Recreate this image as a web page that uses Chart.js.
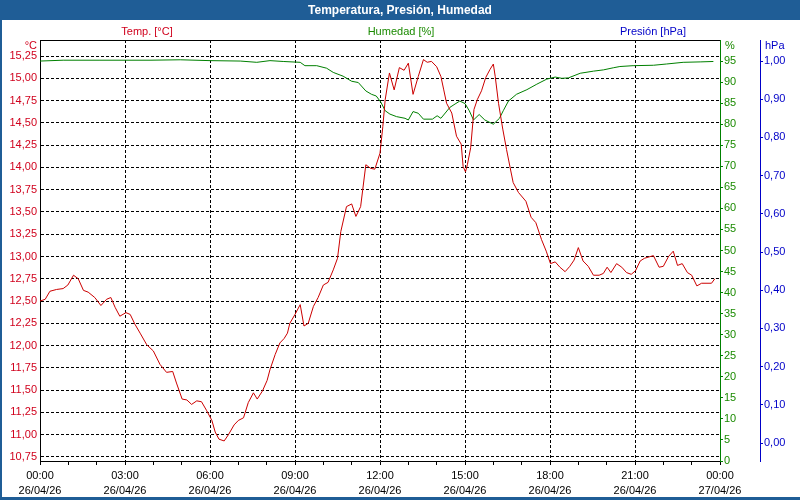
<!DOCTYPE html>
<html>
<head>
<meta charset="utf-8">
<script src="https://cdn.jsdelivr.net/npm/chart.js@4.4.1/dist/chart.umd.min.js"></script>
<style>
html,body{margin:0;padding:0;background:#fff;}
canvas{display:block;}
</style>
</head>
<body>
<canvas id="c" width="800" height="500"></canvas>
<script>
// ---- data (minutes since 00:00 on 26/04/26) ----
const tempMin = [0,11,21,35,49,59,71,81,92,102,116,129,141,150,159,169,182,191,201,212,226,240,254,268,281,289,301,311,321,332,342,353,364,371,379,390,399,411,420,431,441,452,460,471,481,487,498,508,517,524,529,540,551,559,568,579,589,600,610,621,630,637,649,660,669,679,690,700,709,720,726,731,740,750,761,771,780,790,801,812,820,829,840,849,855,861,872,882,892,896,901,905,912,919,926,935,944,953,960,964,971,980,988,997,1002,1013,1029,1040,1050,1062,1072,1081,1091,1101,1112,1122,1131,1140,1150,1161,1172,1184,1193,1201,1209,1221,1232,1242,1252,1261,1271,1280,1299,1311,1320,1331,1341,1350,1360,1371,1380,1391,1401,1422,1429];
const tempVal = [12.50,12.52,12.61,12.63,12.64,12.68,12.79,12.75,12.62,12.60,12.54,12.45,12.52,12.54,12.43,12.33,12.37,12.35,12.24,12.14,12.01,11.94,11.79,11.70,11.71,11.58,11.40,11.39,11.34,11.38,11.37,11.27,11.16,11.03,10.95,10.93,11.00,11.11,11.16,11.19,11.36,11.47,11.40,11.49,11.61,11.73,11.90,12.03,12.08,12.14,12.25,12.35,12.46,12.22,12.25,12.44,12.54,12.68,12.71,12.85,12.98,13.28,13.56,13.59,13.45,13.56,14.03,13.99,13.98,14.16,14.46,14.76,15.06,14.87,15.12,15.09,15.17,14.82,15.02,15.21,15.18,15.19,15.13,15.02,14.87,14.72,14.61,14.35,14.26,14.01,13.95,14.03,14.22,14.65,14.76,14.86,15.01,15.10,15.16,15.02,14.72,14.43,14.20,13.96,13.83,13.72,13.62,13.44,13.38,13.19,13.06,12.92,12.94,12.88,12.83,12.89,12.96,13.10,12.95,12.89,12.79,12.79,12.81,12.88,12.82,12.92,12.88,12.82,12.80,12.84,12.95,12.98,13.01,12.88,12.89,13.00,13.06,12.90,12.92,12.82,12.79,12.67,12.70,12.70,12.75];

const humMin = [0,49,127,233,297,360,424,459,487,515,551,561,586,607,621,642,660,674,690,702,712,722,731,741,755,773,780,790,801,812,831,841,849,868,879,889,900,909,918,930,942,960,973,981,992,1009,1031,1052,1073,1091,1105,1119,1144,1172,1193,1214,1228,1256,1299,1327,1362,1398,1426];
const humVal = [95.0,95.2,95.2,95.2,95.3,95.1,95.0,94.7,95.1,94.9,94.7,93.9,93.9,93.3,92.3,91.4,90.2,89.9,87.9,87.1,86.7,85.2,83.2,82.4,81.8,81.4,81.0,83.0,82.6,81.2,81.2,82.0,81.4,84.0,84.8,85.5,84.9,83.2,81.0,82.3,81.0,80.0,81.4,83.2,85.5,87.1,88.2,89.5,90.7,91.2,90.9,91.0,92.1,92.6,92.9,93.4,93.7,93.9,94.0,94.3,94.7,94.8,94.9];

// ---- tick labels ----
const xTickTimes = ["00:00","03:00","06:00","09:00","12:00","15:00","18:00","21:00","00:00"];
const xTickDates = ["26/04/26","26/04/26","26/04/26","26/04/26","26/04/26","26/04/26","26/04/26","26/04/26","27/04/26"];
const tempTicks = [10.75,11.00,11.25,11.50,11.75,12.00,12.25,12.50,12.75,13.00,13.25,13.50,13.75,14.00,14.25,14.50,14.75,15.00,15.25];
const tempTickLabels = ["10,75","11,00","11,25","11,50","11,75","12,00","12,25","12,50","12,75","13,00","13,25","13,50","13,75","14,00","14,25","14,50","14,75","15,00","15,25"];
const humTicks = [0,5,10,15,20,25,30,35,40,45,50,55,60,65,70,75,80,85,90,95];
const presTicks = [0,0.1,0.2,0.3,0.4,0.5,0.6,0.7,0.8,0.9,1.0];
const presTickLabels = ["0,00","0,10","0,20","0,30","0,40","0,50","0,60","0,70","0,80","0,90","1,00"];

const TITLE = "Temperatura, Presión, Humedad";
const seriesNames = ["Temp. [°C]","Humedad [%]","Presión [hPa]"];
const unitNames = ["°C","%","hPa"];

const RED = "#cc0000", RED_TXT = "#d0001c";
const GREEN = "#008000", GREEN_TXT = "#1a8a00";
const BLUE = "#0000c8";
const BAR = "#1f5d96";
const FONT = "'Liberation Sans', Arial, sans-serif";

Chart.defaults.font.family = FONT;
Chart.defaults.font.size = 11;

const decor = {
  id: 'decor',
  beforeDraw(chart) {
    const c = chart.ctx, a = chart.chartArea;
    c.save();
    c.fillStyle = '#fff';
    c.fillRect(0, 0, chart.width, chart.height);
    c.fillStyle = BAR;
    c.fillRect(0, 0, chart.width, 20);
    c.fillRect(0, 20, 2, chart.height - 20);
    c.fillRect(0, chart.height - 3, chart.width, 3);
    c.fillStyle = '#fff';
    c.font = "bold 12px " + FONT;
    c.textAlign = 'center';
    c.textBaseline = 'middle';
    c.fillText(TITLE, chart.width / 2, 11);
    c.font = "11px " + FONT;
    const cols = [RED_TXT, GREEN_TXT, BLUE];
    const cx = [147, 401, 653];
    seriesNames.forEach((n, i) => { c.fillStyle = cols[i]; c.fillText(n, cx[i], 32); });
    c.textAlign = 'right';
    c.fillStyle = RED_TXT;
    c.fillText(unitNames[0], a.left - 3, 46);
    c.textAlign = 'left';
    c.fillStyle = GREEN_TXT;
    c.fillText(unitNames[1], a.right + 5, 46);
    c.fillStyle = BLUE;
    c.fillText(unitNames[2], a.right + 45, 46);
    c.restore();
  },
  afterDraw(chart) {
    const c = chart.ctx, a = chart.chartArea;
    c.save();
    c.strokeStyle = '#000';
    c.lineWidth = 1;
    c.beginPath();
    c.moveTo(a.left, a.top + 0.5);
    c.lineTo(a.right, a.top + 0.5);
    c.stroke();
    c.restore();
  }
};

new Chart(document.getElementById('c'), {
  type: 'line',
  data: {
    datasets: [
      {
        label: seriesNames[0],
        data: tempMin.map((m, i) => ({x: m, y: tempVal[i]})),
        yAxisID: 'yT',
        borderColor: RED,
        borderWidth: 1,
        pointRadius: 0,
        tension: 0
      },
      {
        label: seriesNames[1],
        data: humMin.map((m, i) => ({x: m, y: humVal[i]})),
        yAxisID: 'yH',
        borderColor: GREEN,
        borderWidth: 1,
        pointRadius: 0,
        tension: 0
      }
    ]
  },
  options: {
    responsive: false,
    animation: false,
    devicePixelRatio: 1,
    layout: {padding: {top: 40, left: 0, right: 0, bottom: 0}},
    plugins: {legend: {display: false}, tooltip: {enabled: false}},
    scales: {
      x: {
        type: 'linear',
        min: 0, max: 1440,
        afterBuildTicks(s) {
          const t = [];
          for (let v = 0; v <= 1440; v += 60) t.push({value: v});
          s.ticks = t;
        },
        afterFit(s) { s.height = 39; },
        ticks: {
          autoSkip: false, maxRotation: 0, color: '#000', padding: 4,
          font: {size: 11, lineHeight: 1.35},
          callback(v) {
            if (v % 180 !== 0) return '';
            const k = v / 180;
            return [xTickTimes[k], xTickDates[k]];
          }
        },
        grid: {
          color: (ctx) => (ctx.tick && ctx.tick.value % 180 === 0 && ctx.tick.value > 0 && ctx.tick.value < 1440) ? '#000' : 'rgba(0,0,0,0)',
          tickColor: '#000',
          tickLength: 4,
          lineWidth: 1
        },
        border: {display: true, color: '#000', width: 1, dash: [3, 2]}
      },
      yT: {
        type: 'linear',
        position: 'left',
        min: 10.705, max: 15.43,
        afterBuildTicks(s) { s.ticks = tempTicks.map(v => ({value: v})); },
        afterFit(s) { s.width = 40; },
        ticks: {
          autoSkip: false, color: RED_TXT, padding: 3,
          callback: (v, i) => tempTickLabels[i]
        },
        grid: {color: '#000', lineWidth: 1, drawTicks: false},
        border: {display: true, color: '#000', width: 1, dash: [3, 2]}
      },
      yH: {
        type: 'linear',
        position: 'right',
        min: 0, max: 100,
        afterBuildTicks(s) { s.ticks = humTicks.map(v => ({value: v})); },
        afterFit(s) { s.width = 40; },
        ticks: {autoSkip: false, color: GREEN_TXT, padding: 1, callback: (v) => String(v)},
        grid: {drawOnChartArea: false, tickColor: GREEN, tickLength: 3},
        border: {display: true, color: GREEN, width: 1}
      },
      yP: {
        type: 'linear',
        position: 'right',
        min: -0.047, max: 1.055,
        afterBuildTicks(s) { s.ticks = presTicks.map(v => ({value: v})); },
        afterFit(s) { s.width = 40; },
        ticks: {autoSkip: false, color: BLUE, padding: 1, callback: (v, i) => presTickLabels[i]},
        grid: {drawOnChartArea: false, tickColor: BLUE, tickLength: 3},
        border: {display: true, color: BLUE, width: 1}
      }
    }
  },
  plugins: [decor]
});
</script>
</body>
</html>
